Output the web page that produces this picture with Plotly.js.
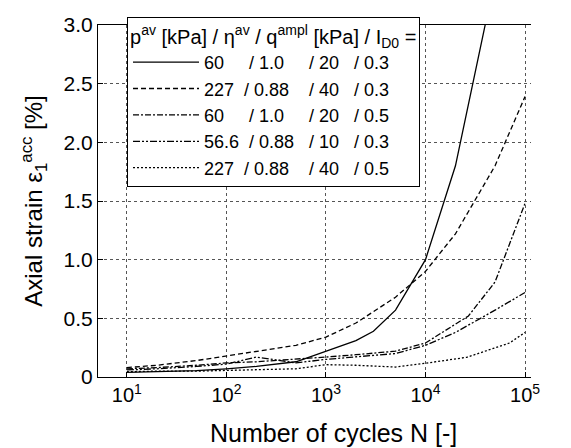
<!DOCTYPE html>
<html>
<head>
<meta charset="utf-8">
<script src="https://cdn.plot.ly/plotly-3.0.1.min.js"></script>
<style>html,body{margin:0;padding:0;background:#fff;}#chart{width:571px;height:448px;}</style>
</head>
<body>
<div id="chart"></div>
<script>
// Number of cycles N and accumulated axial strain [%] for each test
const N1 = [10, 20, 50, 100, 200, 500, 1000, 2000, 3000, 5000, 10000, 20000, 50000];
const E1 = [0.04, 0.045, 0.055, 0.07, 0.09, 0.13, 0.22, 0.31, 0.39, 0.57, 1.0, 1.8, 3.4];

const N2 = [10, 20, 50, 100, 200, 500, 1000, 2000, 5000, 10000, 20000, 50000, 100000];
const E2 = [0.08, 0.10, 0.14, 0.18, 0.22, 0.27, 0.34, 0.46, 0.68, 0.90, 1.22, 1.80, 2.39];

const N3 = [10, 20, 50, 100, 200, 500, 1000, 2000, 5000, 10000, 27000, 50000, 100000];
const E3 = [0.07, 0.08, 0.10, 0.12, 0.13, 0.15, 0.17, 0.19, 0.22, 0.29, 0.52, 0.81, 1.48];

const N4 = [10, 20, 50, 100, 200, 500, 1000, 2000, 5000, 10000, 20000, 50000, 100000];
const E4 = [0.06, 0.07, 0.09, 0.11, 0.17, 0.12, 0.15, 0.17, 0.20, 0.27, 0.38, 0.57, 0.72];

const N5 = [10, 20, 50, 100, 200, 500, 1000, 2000, 5000, 10000, 26000, 70000, 100000];
const E5 = [0.045, 0.05, 0.05, 0.055, 0.06, 0.07, 0.105, 0.10, 0.085, 0.117, 0.168, 0.29, 0.38];

const NB = '\u00a0';
const sp = n => NB.repeat(n);
const seriesNames = [
  '60' + sp(5) + '/' + sp(1) + '1.0' + sp(5) + '/' + sp(1) + '20' + sp(3) + '/' + sp(1) + '0.3',
  '227' + sp(2) + '/' + sp(1) + '0.88' + sp(4) + '/' + sp(1) + '40' + sp(3) + '/' + sp(1) + '0.3',
  '60' + sp(5) + '/' + sp(1) + '1.0' + sp(5) + '/' + sp(1) + '20' + sp(3) + '/' + sp(1) + '0.5',
  '56.6' + sp(2) + '/' + sp(1) + '0.88' + sp(3) + '/' + sp(1) + '10' + sp(3) + '/' + sp(1) + '0.3',
  '227' + sp(2) + '/' + sp(1) + '0.88' + sp(4) + '/' + sp(1) + '40' + sp(3) + '/' + sp(1) + '0.5'
];
const legendHeader = 'p<sup>av</sup> [kPa] / \u03b7<sup>av</sup> / q<sup>ampl</sup> [kPa] / I<sub>D0</sub> =';

const xTickVals = [10, 100, 1000, 10000, 100000];
const xTickText = ['10<sup>1</sup>', '10<sup>2</sup>', '10<sup>3</sup>', '10<sup>4</sup>', '10<sup>5</sup>'];
const yTickVals = [0, 0.5, 1.0, 1.5, 2.0, 2.5, 3.0];
const yTickText = ['0', '0.5', '1.0', '1.5', '2.0', '2.5', '3.0'];
const xTitle = 'Number of cycles N [-]';
const yTitle = 'Axial strain \u03b5<sub>1</sub><sup>acc</sup> [%]';

const dashes = ['solid', '5px,3px', '6px,2px,2px,2px', '7px,2px,2px,2px,2px,2px', '2px,2px'];
const Ns = [N1, N2, N3, N4, N5];
const Es = [E1, E2, E3, E4, E5];

const traces = Ns.map((n, i) => ({
  x: n, y: Es[i], type: 'scatter', mode: 'lines', name: seriesNames[i],
  line: {color: '#000', width: 1.3, dash: dashes[i]}
}));

const font = 'Liberation Sans, Arial, Helvetica, sans-serif';
const layout = {
  width: 571, height: 448,
  margin: {l: 98, r: 40, t: 25, b: 71},
  paper_bgcolor: '#fff', plot_bgcolor: '#fff',
  font: {family: font, color: '#000', size: 18},
  showlegend: true,
  legend: {
    x: 0.067, y: 1.023, xanchor: 'left', yanchor: 'top',
    bgcolor: '#fff', bordercolor: '#000', borderwidth: 1,
    font: {family: font, size: 18, color: '#000'},
    title: {text: legendHeader, font: {family: font, size: 20, color: '#000'}},
    itemwidth: 66, tracegroupgap: 0
  },
  xaxis: {
    type: 'log', range: [0.71, 5.06],
    tickvals: xTickVals, ticktext: xTickText,
    ticks: 'inside', ticklen: 5, tickcolor: '#000', tickwidth: 1,
    showline: true, linecolor: '#000', linewidth: 1, mirror: true,
    showgrid: true, gridcolor: '#555', griddash: 'dot', gridwidth: 1,
    zeroline: false,
    tickfont: {family: font, size: 20}
  },
  yaxis: {
    range: [0, 3.0],
    tickvals: yTickVals, ticktext: yTickText,
    ticks: 'inside', ticklen: 5, tickcolor: '#000', tickwidth: 1,
    showline: true, linecolor: '#000', linewidth: 1,
    showgrid: true, gridcolor: '#555', griddash: 'dot', gridwidth: 1,
    zeroline: false,
    tickfont: {family: font, size: 21},
    title: {text: yTitle, font: {family: font, size: 24}, standoff: 14}
  },
  annotations: [{
    text: xTitle, xref: 'paper', yref: 'paper', x: 0.543, y: -0.159,
    xanchor: 'center', yanchor: 'middle', showarrow: false,
    font: {family: font, size: 25, color: '#000'}
  }]
};

Plotly.newPlot('chart', traces, layout, {displayModeBar: false, staticPlot: true});
</script>
</body>
</html>
